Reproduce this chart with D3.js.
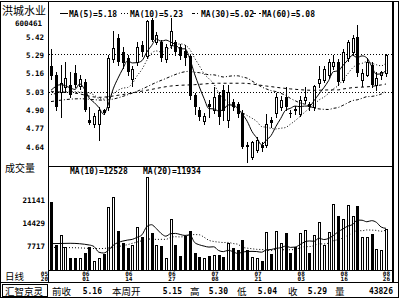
<!DOCTYPE html>
<html>
<head>
<meta charset="utf-8">
<script src="https://cdn.jsdelivr.net/npm/d3@7"></script>
<style>
html, body { margin: 0; padding: 0; background: #fff; }
svg { display: block; }
text { font-family: "DejaVu Sans Mono", monospace; font-weight: bold; fill: #000; }
text.cjk { font-family: "Noto Sans CJK SC", sans-serif; font-weight: normal; }
</style>
</head>
<body>
<script>
// trading days shown on the chart (2005)
const dates = [
	"05/20", "05/23", "05/24", "05/25", "05/26", "05/27", "05/30", "05/31",
	"06/01", "06/02", "06/03", "06/06", "06/07", "06/08", "06/09", "06/10", "06/13", "06/14", "06/15", "06/16",
	"06/17", "06/20", "06/21", "06/22", "06/23", "06/24", "06/27", "06/28", "06/29", "06/30",
	"07/01", "07/04", "07/05", "07/06", "07/07", "07/08", "07/11", "07/12", "07/13", "07/14", "07/15",
	"07/18", "07/19", "07/20", "07/21", "07/22", "07/25", "07/26", "07/27", "07/28", "07/29",
	"08/01", "08/02", "08/03", "08/04", "08/05", "08/08", "08/09", "08/10", "08/11", "08/12",
	"08/15", "08/16", "08/17", "08/18", "08/19", "08/22", "08/23", "08/24", "08/25", "08/26"
];

const opens = [
	5.21, 5.15, 5.03, 5.06, 5.08, 5.16, 5.07, 5.10, 4.83, 4.80,
	4.80, 4.90, 4.92, 5.26, 5.41, 5.31, 5.27, 5.12, 5.24, 5.36,
	5.28, 5.54, 5.38, 5.38, 5.26, 5.36, 5.38, 5.35, 5.32, 5.28,
	5.01, 4.90, 4.82, 4.94, 4.90, 5.01, 5.04, 4.83, 4.96, 4.94,
	4.88, 4.65, 4.57, 4.62, 4.65, 4.65, 4.83, 4.88, 4.92, 4.99,
	4.88, 4.91, 4.87, 4.97, 4.94, 4.92, 5.09, 5.11, 5.15, 5.21,
	5.24, 5.11, 5.27, 5.31, 5.42, 5.11, 5.15, 5.22, 5.08, 5.15,
	5.16
];
const highs = [
	5.33, 5.17, 5.22, 5.24, 5.17, 5.22, 5.15, 5.12, 4.92, 4.88,
	4.92, 4.91, 5.29, 5.46, 5.44, 5.35, 5.29, 5.21, 5.38, 5.39,
	5.54, 5.55, 5.45, 5.40, 5.37, 5.55, 5.40, 5.37, 5.36, 5.30,
	5.02, 4.92, 4.88, 4.97, 5.06, 5.03, 5.08, 5.08, 4.98, 4.96,
	4.90, 4.67, 4.68, 4.71, 4.67, 4.87, 4.85, 5.02, 5.00, 5.06,
	4.90, 4.93, 5.00, 5.06, 4.96, 5.08, 5.21, 5.21, 5.26, 5.29,
	5.26, 5.33, 5.40, 5.43, 5.50, 5.19, 5.27, 5.24, 5.17, 5.18,
	5.30
];
const lows = [
	5.12, 4.90, 4.85, 5.03, 4.99, 5.06, 5.05, 4.89, 4.80, 4.78,
	4.69, 4.87, 4.90, 5.24, 5.22, 5.20, 5.15, 5.07, 5.22, 5.28,
	5.27, 5.39, 5.37, 5.25, 5.24, 5.34, 5.29, 5.26, 5.22, 4.98,
	4.87, 4.83, 4.80, 4.85, 4.88, 4.80, 4.83, 4.78, 4.90, 4.85,
	4.63, 4.53, 4.55, 4.60, 4.61, 4.64, 4.78, 4.85, 4.90, 4.90,
	4.85, 4.87, 4.86, 4.95, 4.90, 4.90, 5.06, 5.10, 5.13, 5.19,
	5.08, 5.10, 5.25, 5.29, 5.14, 5.07, 5.14, 5.06, 5.04, 5.12,
	5.14
];
const closes = [
	5.14, 4.92, 5.09, 5.13, 5.01, 5.08, 5.12, 4.90, 4.81, 4.86,
	4.90, 4.88, 5.27, 5.34, 5.24, 5.23, 5.17, 5.19, 5.35, 5.31,
	5.53, 5.40, 5.43, 5.27, 5.35, 5.46, 5.31, 5.28, 5.27, 5.00,
	4.92, 4.85, 4.86, 4.92, 4.99, 4.85, 4.89, 5.03, 4.92, 4.87,
	4.64, 4.64, 4.67, 4.69, 4.63, 4.80, 4.81, 4.99, 4.97, 4.92,
	4.87, 4.89, 4.97, 4.99, 4.92, 5.07, 5.12, 5.19, 5.24, 5.24,
	5.10, 5.31, 5.38, 5.41, 5.16, 5.16, 5.24, 5.08, 5.13, 5.17,
	5.29
];
const volumes = [
	20500, 7900, 11000, 7300, 4100, 4200, 4100, 5800, 7300, 3200,
	4100, 5500, 19000, 22000, 12000, 8500, 7000, 7900, 13300, 10300,
	27800, 11400, 7900, 7600, 4100, 15700, 7900, 4700, 10500, 12000,
	5800, 4400, 4100, 4700, 5000, 5000, 4400, 8500, 7000, 6400,
	9600, 6400, 4400, 4100, 3200, 11700, 5500, 12000, 8500, 11400,
	5800, 7300, 11400, 12400, 5800, 10800, 14600, 7900, 11700, 20100,
	16600, 15500, 19800, 16600, 19300, 10200, 10200, 11100, 6700, 6400,
	12800
];

const ma5Early = [[0, 5.04], [2, 5.08]];
const ma10Early = [[0, 5.01], [4, 5.03], [8, 5.02]];
const ma30Early = [[0, 4.96], [6, 4.98], [11, 4.97], [17, 5.02], [23, 5.11]];
const ma60Early = [[0, 5.03], [5, 5.02], [10, 4.99], [15, 5.01], [20, 5.04], [25, 5.07],
	[30, 5.08], [35, 5.09], [40, 5.09], [45, 5.07], [50, 5.05], [55, 5.04]];
const volMa10Early = [[0, 8400], [4, 8500], [8, 8000]];
const volMa20Early = [[0, 7300], [5, 7200], [10, 6950], [15, 7800]];

const priceTicks = [4.64, 4.77, 4.90, 5.03, 5.16, 5.29, 5.42];
const volumeTicks = [7717, 14429, 21141];
const refLevels = [5.30, 5.03];
const dateTicks = ["05/20", "06/01", "06/14", "06/27", "07/08", "07/21", "08/03", "08/16", "08/26"];

const maNames = ["MA(5)", "MA(10)", "MA(30)", "MA(60)"];
const maLegendValues = ["5.18", "5.23", "5.02", "5.08"];
const volMaNames = ["MA(10)", "MA(20)"];
const volMaLegendValues = ["12528", "11934"];

const infoLabels = ["前收", "本周开", "高", "低", "收", "量"];
const infoValues = ["5.16", "5.15", "5.30", "5.04", "5.29", "43826"];

(() => {
	let width = 400;
	let height = 300;
	let svg = d3.select("body").append("svg").attr("width", width).attr("height", height);

	let x = d3.scalePoint().domain(dates).range([51, 386]);
	let y = d3.scaleLinear().domain([4.64, 5.42]).range([146.7, 36.7]);
	let yv = d3.scaleLinear().domain([0, 21141]).range([272.4, 200]);
	let volBottom = 270;

	let defs = svg.append("defs");
	defs.append("clipPath").attr("id", "priceClip")
		.append("rect").attr("x", 49).attr("y", 2).attr("width", 343).attr("height", 164);
	defs.append("clipPath").attr("id", "volClip")
		.append("rect").attr("x", 49).attr("y", 167).attr("width", 343).attr("height", 103);

	// frame lines
	let frame = svg.append("g").attr("stroke", "#000").attr("fill", "none").attr("shape-rendering", "crispEdges");
	frame.append("rect").attr("x", 0.5).attr("y", 1.5).attr("width", 398).attr("height", 296);
	frame.append("line").attr("x1", 48.5).attr("x2", 48.5).attr("y1", 1.5).attr("y2", 282.5);
	frame.append("line").attr("x1", 393).attr("x2", 393).attr("y1", 1.5).attr("y2", 282.5).attr("stroke-width", 2);
	frame.append("line").attr("x1", 48.5).attr("x2", 393).attr("y1", 166.5).attr("y2", 166.5);
	frame.append("line").attr("x1", 48.5).attr("x2", 393).attr("y1", 270.5).attr("y2", 270.5);
	frame.append("line").attr("x1", 0).attr("x2", 399).attr("y1", 282.5).attr("y2", 282.5);
	frame.append("rect").attr("x", 2.5).attr("y", 284.5).attr("width", 45).attr("height", 12);

	// reference dotted levels
	svg.append("g").selectAll("line").data(refLevels).enter().append("line")
		.attr("x1", 49).attr("x2", 392)
		.attr("y1", d => Math.round(y(d)) + 0.5).attr("y2", d => Math.round(y(d)) + 0.5)
		.attr("stroke", "#000").attr("stroke-dasharray", "1,2");

	let candles = dates.map((d, i) => ({
		date: d, open: opens[i], high: highs[i], low: lows[i], close: closes[i], volume: volumes[i],
		up: closes[i] >= opens[i]
	}));

	// candles
	let price = svg.append("g").attr("clip-path", "url(#priceClip)").attr("shape-rendering", "crispEdges");
	let candle = price.selectAll("g").data(candles).enter().append("g");
	candle.append("line")
		.attr("x1", d => Math.round(x(d.date)) + 0.5).attr("x2", d => Math.round(x(d.date)) + 0.5)
		.attr("y1", d => Math.round(y(d.high))).attr("y2", d => Math.round(y(d.low)) + 1)
		.attr("stroke", "#000");
	candle.append("rect")
		.attr("x", d => Math.round(x(d.date)) - (d.up ? 0.5 : 1))
		.attr("y", d => Math.round(y(Math.max(d.open, d.close))) + (d.up ? 0.5 : 0))
		.attr("width", d => d.up ? 2 : 3)
		.attr("height", d => {
			let h = Math.round(y(Math.min(d.open, d.close))) - Math.round(y(Math.max(d.open, d.close)));
			return d.up ? Math.max(h, 0) : Math.max(h, 1);
		})
		.attr("fill", d => d.up ? "#fff" : "#000")
		.attr("stroke", d => d.up ? "#000" : "none");

	// moving averages
	function movingAvg(values, n, early)
	{
		let pts = early.map(p => [p[0], p[1]]);
		for (let i = n - 1; i < values.length; i++) {
			pts.push([i, d3.mean(values.slice(i - n + 1, i + 1))]);
		}
		return pts;
	}

	let priceLine = d3.line().x(p => x(dates[p[0]])).y(p => y(p[1])).curve(d3.curveMonotoneX);
	let maStyles = [null, "1,2", "3,2,1,2", "3,3"];
	let maSeries = [
		movingAvg(closes, 5, ma5Early),
		movingAvg(closes, 10, ma10Early),
		movingAvg(closes, 30, ma30Early),
		movingAvg(closes, 60, ma60Early)
	];
	svg.append("g").attr("clip-path", "url(#priceClip)").selectAll("path").data(maSeries).enter().append("path")
		.attr("d", priceLine).attr("fill", "none").attr("stroke", "#000").attr("stroke-width", 1)
		.attr("stroke-dasharray", (d, i) => maStyles[i]);

	// volume bars
	let vol = svg.append("g").attr("clip-path", "url(#volClip)").attr("shape-rendering", "crispEdges");
	vol.selectAll("rect").data(candles).enter().append("rect")
		.attr("x", d => Math.round(x(d.date)) - (d.up ? 0.5 : 1))
		.attr("y", d => Math.round(yv(d.volume)) + (d.up ? 0.5 : 0))
		.attr("width", d => d.up ? 2 : 3)
		.attr("height", d => volBottom - Math.round(yv(d.volume)))
		.attr("fill", d => d.up ? "#fff" : "#000")
		.attr("stroke", d => d.up ? "#000" : "none");

	let volLine = d3.line().x(p => x(dates[p[0]])).y(p => yv(p[1])).curve(d3.curveMonotoneX);
	let volSeries = [movingAvg(volumes, 10, volMa10Early), movingAvg(volumes, 20, volMa20Early)];
	svg.append("g").attr("clip-path", "url(#volClip)").selectAll("path").data(volSeries).enter().append("path")
		.attr("d", volLine).attr("fill", "none").attr("stroke", "#000").attr("stroke-width", 1)
		.attr("stroke-dasharray", (d, i) => i ? "1,2" : null);

	// axes
	let priceAxis = svg.append("g").attr("transform", "translate(44,0)")
		.call(d3.axisLeft(y).tickValues(priceTicks).tickSize(0).tickPadding(0).tickFormat(d3.format(".2f")));
	let volAxis = svg.append("g").attr("transform", "translate(45,0)")
		.call(d3.axisLeft(yv).tickValues(volumeTicks).tickSize(0).tickPadding(0).tickFormat(d3.format("d")));
	[priceAxis, volAxis].forEach(g => {
		g.select(".domain").remove();
		g.attr("font-family", null).attr("font-size", null);
		g.selectAll("text").style("font-size", "7.5px").attr("fill", "#000");
	});

	// date labels
	let dateG = svg.append("g").style("font-size", "6px");
	dateTicks.forEach((d, i) => {
		let cx = x(d);
		let anchor = "middle";
		let tx = cx - 3.5;
		if (i === 0) { anchor = "end"; tx = cx - 3; }
		if (i === dateTicks.length - 1) { anchor = "end"; tx = cx + 4; }
		let parts = d.split("/");
		dateG.append("text").attr("x", tx).attr("y", 275.5).attr("text-anchor", anchor).text(parts[0]);
		dateG.append("text").attr("x", tx).attr("y", 281).attr("text-anchor", anchor).text(parts[1]);
	});

	// titles
	svg.append("text").attr("class", "cjk").attr("x", 2).attr("y", 14.5).style("font-size", "11px").text("洪城水业");
	svg.append("text").attr("x", 42).attr("y", 26).attr("text-anchor", "end").style("font-size", "7.5px").text("600461");
	svg.append("text").attr("class", "cjk").attr("x", 5).attr("y", 172).style("font-size", "10px").text("成交量");
	svg.append("text").attr("class", "cjk").attr("x", 5).attr("y", 279.5).style("font-size", "9.5px").text("日线");

	// price legend
	let legendX = [60, 121, 192, 253];
	maNames.forEach((name, i) => {
		let g = svg.append("g").attr("transform", `translate(${legendX[i]},0)`);
		g.append("line").attr("x1", 0).attr("x2", 8).attr("y1", 13.5).attr("y2", 13.5)
			.attr("stroke", "#000").attr("stroke-dasharray", maStyles[i]);
		g.append("text").attr("x", 9).attr("y", 17).style("font-size", "8px").text(`${name}=${maLegendValues[i]}`);
	});

	// volume legend
	let volLegendX = [70, 143];
	volMaNames.forEach((name, i) => {
		svg.append("text").attr("x", volLegendX[i]).attr("y", 173.5).style("font-size", "8px")
			.text(`${name}=${volMaLegendValues[i]}`);
	});

	// info bar
	svg.append("text").attr("class", "cjk").attr("x", 5).attr("y", 295).style("font-size", "9.5px").text("汇智京灵");
	let labelX = [52, 112, 190, 237, 288, 335];
	let valueX = [102, 182, 228, 277, 327, 393];
	infoLabels.forEach((t, i) => {
		svg.append("text").attr("class", "cjk").attr("x", labelX[i]).attr("y", 295).style("font-size", "9.5px").text(t);
		svg.append("text").attr("x", valueX[i]).attr("y", 293.5).attr("text-anchor", "end").style("font-size", "8px").text(infoValues[i]);
	});
})();
</script>
</body>
</html>
